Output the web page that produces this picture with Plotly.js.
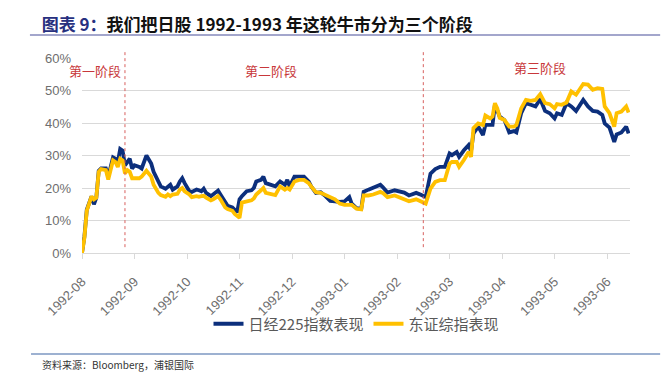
<!DOCTYPE html>
<html>
<head>
<meta charset="utf-8">
<script src="https://cdn.plot.ly/plotly-3.0.1.min.js"></script>
<style>
  html, body { margin: 0; padding: 0; background: #ffffff; }
  #chart { width: 672px; height: 380px; }
</style>
</head>
<body>
<div id="chart"></div>
<script>
// Trading-day index (from 1992-08 start) and cumulative performance (%)
const days = [0,1,2,3,4,5,6,7,8,10,11,13,14,15,16,17,18,19,20,21,22,24,25,27,29,30,32,33,35,36,37,38,40,41,42,43,45,46,48,49,50,51,52,54,55,57,58,60,61,63,64,65,66,67,69,71,72,73,75,76,77,79,81,83,85,86,87,89,91,93,95,96,98,100,102,
  104,106,108,110,112,113,115,117,118,120,122,125,126,128,131,133,135,137,140,142,144,146,148,150,152,154,155,157,158,160,162,163,164,166,168,169,171,172,173,174,175,177,179,181,182,184,186,188,190,192,194,196,198,199,201,203,205,207,210,212,214,216,218,219,221,223,224,226,228,229];
const nikkei = [0,5,13.3,15,17.4,15,17,25.3,26,26,23.5,29.4,29,28,32,31.5,27,28,29,26,27,26.5,26,30,27.5,25,21.5,20.5,19.8,20.5,21,19.5,20.5,22,23,21.5,19,18.8,19.5,19.3,19,19.8,18.5,17.5,18,19.2,18,15.5,14.5,14,13.2,12.5,16.5,17.5,19,19.3,20,22,22.5,23.5,21.5,21,20.5,22,21,22.5,20.5,23.5,23.5,23.5,22,20.5,18.5,18.7,17.5,
  16.0,15.9,15.7,15.9,17.2,15.2,13.8,13.6,18.8,19.5,20.0,21.0,20.3,18.6,19.3,18.8,18.6,17.7,18.5,17.9,17.2,24.4,25.8,26.5,26.5,30.6,30.1,31.1,29.6,31.6,33.2,31.3,36.8,38.9,36.3,39.4,39.4,39.4,45.6,44.0,42.0,40.9,37.1,37.5,37.1,43.0,46.1,45.6,45.1,47.4,43.7,43.0,41.4,43.0,42.5,46.1,45.1,43.7,47.1,45.1,43.7,43.5,42.5,39.9,38.6,34.2,36.5,37.1,38.9,36.8];
const shcomp = [0,4.6,13,15,17.4,16.5,17,25,25.8,25.5,22.6,28.5,28,26.5,29,28.5,24.5,25.5,25,23,23,23,23.5,25.3,23.5,21,18.5,17.8,17.3,18,17.5,18,18.2,19.5,20,19,18,17.2,17.5,17.3,17.5,17.6,17,16.2,16.5,17.5,16.5,14,13.5,13,12,11.3,10.8,15.5,16,16.2,16.8,18,19.3,20,18.5,18.2,17.8,20.5,19.5,20,19.5,22,22.5,22.5,21.5,20.5,18.7,18.5,17.8,
  16.9,16.5,15.2,14.8,14.8,14.8,13.6,13.4,17.7,17.7,18.0,18.8,18.5,17.2,17.7,17.2,16.7,15.9,16.5,15.7,15.2,19.8,21.9,22.4,22.4,27.5,28.0,28.0,26.5,28.6,31.1,29.6,38.4,39.9,39.4,42.3,41.4,42.0,46.1,44.5,41.6,40.9,38.9,38.9,39.4,44.5,47.1,46.8,47.1,48.9,46.1,45.8,44.5,45.8,45.6,46.3,49.7,48.7,52.0,51.8,50.2,50.7,50.5,45.1,43.0,38.9,43.0,43.5,45.1,43.2];

const tickDays = [0,22,44,66,88,110,132,154,176,198,220];
const tickLabels = ['1992-08','1992-09','1992-10','1992-11','1992-12','1993-01','1993-02','1993-03','1993-04','1993-05','1993-06'];
const yTicks = [0,10,20,30,40,50,60];
const yTickLabels = ['0%','10%','20%','30%','40%','50%','60%'];
const seriesNames = ['日经225指数表现','东证综指表现'];
const phaseDays = [18, 143];
const phaseLabels = ['第一阶段','第二阶段','第三阶段'];
const phaseLabelDays = [5.6, 79, 192];
const phaseLabelY = [56.3, 56.3, 57.2];

const CJK = '"Noto Sans CJK SC", "Noto Sans", sans-serif';
const LAT = '"Liberation Sans", Arial, sans-serif';

const traces = [
  { x: days, y: nikkei, name: seriesNames[0], type: 'scatter', mode: 'lines',
    line: { color: '#0c2f7c', width: 3.8 } },
  { x: days, y: shcomp, name: seriesNames[1], type: 'scatter', mode: 'lines',
    line: { color: '#ffc000', width: 3.8 } }
];

const shapes = [
  { type: 'line', xref: 'paper', yref: 'paper', x0: -0.095, x1: 1.055, y0: 1.118, y1: 1.118,
    line: { color: '#a3a6cc', width: 2 } },
  { type: 'line', xref: 'paper', yref: 'paper', x0: -0.093, x1: 1.055, y0: -0.518, y1: -0.518,
    line: { color: '#7d97c2', width: 1.5 } }
];
phaseDays.forEach(d => shapes.push({
  type: 'line', xref: 'x', yref: 'paper', x0: d, x1: d, y0: 0.03, y1: 1.04,
  line: { color: '#d8605e', width: 1, dash: 'dot' }
}));

const annotations = phaseLabels.map((t, i) => ({
  text: t, x: phaseLabelDays[i], y: phaseLabelY[i], xref: 'x', yref: 'y',
  showarrow: false, xanchor: 'center', yanchor: 'middle',
  font: { family: CJK, size: 13, color: '#c8373a' }
}));
annotations.push({
  text: '资料来源：Bloomberg，浦银国际', xref: 'paper', yref: 'paper',
  x: -0.077, y: -0.574, xanchor: 'left', yanchor: 'middle', showarrow: false,
  font: { family: CJK, size: 10, color: '#333333' }
});

const layout = {
  width: 672, height: 380,
  margin: { l: 82, r: 42, t: 58, b: 127 },
  paper_bgcolor: '#ffffff', plot_bgcolor: '#ffffff',
  title: {
    text: '<span style="color:#27307f">图表 9：</span>我们把日股 1992-1993 年这轮牛市分为三个阶段',
    xref: 'container', yref: 'container', x: 0.062, y: 0.935, xanchor: 'left', yanchor: 'middle',
    font: { family: CJK, size: 17, color: '#111111', weight: 'bold' }
  },
  xaxis: {
    range: [0, 229.6], tickmode: 'array', tickvals: tickDays, ticktext: tickLabels,
    tickangle: -45, showgrid: false, zeroline: false,
    showline: true, linecolor: '#d9d9d9', linewidth: 1,
    ticks: 'outside', ticklen: 5, tickcolor: '#d9d9d9', ticklabelstandoff: 10,
    tickfont: { family: LAT, size: 13, color: '#6e6e6e' }
  },
  yaxis: {
    range: [0, 60], tickmode: 'array', tickvals: yTicks, ticktext: yTickLabels,
    showgrid: true, gridcolor: '#d9d9d9', gridwidth: 1, zeroline: false, showline: false,
    ticks: '', ticklabelstandoff: 10,
    tickfont: { family: LAT, size: 13, color: '#6e6e6e' }
  },
  showlegend: true,
  legend: {
    orientation: 'h', x: 0.5, y: -0.364, xanchor: 'center', yanchor: 'middle',
    font: { family: CJK, size: 15, color: '#595959' }, itemwidth: 30,
    bgcolor: 'rgba(0,0,0,0)'
  },
  shapes: shapes,
  annotations: annotations
};

Plotly.newPlot('chart', traces, layout, { displayModeBar: false, staticPlot: true });
</script>
</body>
</html>
